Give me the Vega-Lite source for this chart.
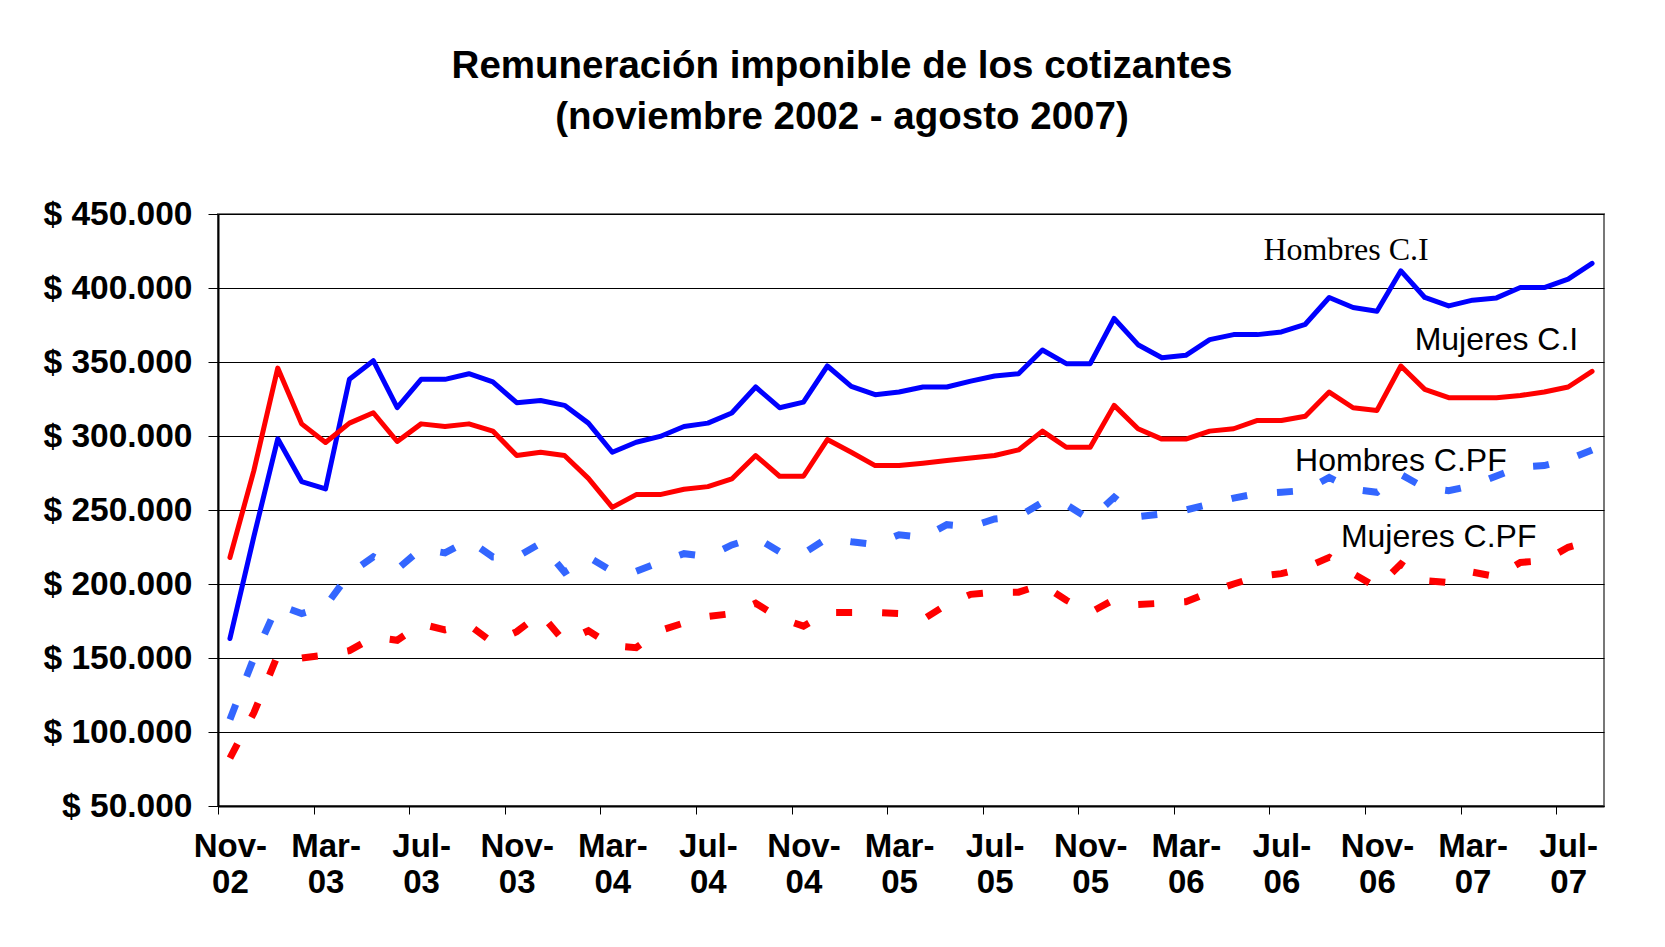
{
  "$schema": "https://vega.github.io/schema/vega-lite/v6.json",
  "autosize": "none",
  "padding": {"left": 218, "top": 214, "right": 61, "bottom": 141},
  "width": 1386,
  "height": 592,
  "background": "#ffffff",
  "config": {"view": {"stroke": "#777777", "strokeWidth": 2}, "font": "Liberation Sans"},
  "title": {
    "text": ["Remuneración imponible de los cotizantes", "(noviembre 2002 - agosto 2007)"],
    "font": "Liberation Sans",
    "fontSize": 38.5,
    "fontWeight": "bold",
    "color": "#000000",
    "lineHeight": 51,
    "anchor": "middle",
    "dx": -69,
    "offset": 60
  },
  "datasets": {
    "series": [
      {"mes": "Nov-02", "hci": 163200, "mci": 217900, "hpf": 108500, "mpf": 82400},
      {"mes": "Dic-02", "hci": 232000, "mci": 276600, "hpf": 150000, "mpf": 113000},
      {"mes": "Ene-03", "hci": 298100, "mci": 345900, "hpf": 186000, "mpf": 152000},
      {"mes": "Feb-03", "hci": 269200, "mci": 308200, "hpf": 180000, "mpf": 150000},
      {"mes": "Mar-03", "hci": 264200, "mci": 295600, "hpf": 185000, "mpf": 152000},
      {"mes": "Abr-03", "hci": 338300, "mci": 308700, "hpf": 207000, "mpf": 155000},
      {"mes": "May-03", "hci": 350900, "mci": 315700, "hpf": 218300, "mpf": 164000},
      {"mes": "Jun-03", "hci": 319100, "mci": 296300, "hpf": 210000, "mpf": 162000},
      {"mes": "Jul-03", "hci": 338300, "mci": 308200, "hpf": 223700, "mpf": 173000},
      {"mes": "Ago-03", "hci": 338300, "mci": 306400, "hpf": 221000, "mpf": 169000},
      {"mes": "Sep-03", "hci": 342100, "mci": 308200, "hpf": 229600, "mpf": 172400},
      {"mes": "Oct-03", "hci": 336500, "mci": 303300, "hpf": 218300, "mpf": 160300},
      {"mes": "Nov-03", "hci": 322500, "mci": 286800, "hpf": 218300, "mpf": 167800},
      {"mes": "Dic-03", "hci": 324000, "mci": 289000, "hpf": 227500, "mpf": 180000},
      {"mes": "Ene-04", "hci": 320700, "mci": 286800, "hpf": 208000, "mpf": 161000},
      {"mes": "Feb-04", "hci": 308700, "mci": 271400, "hpf": 218200, "mpf": 168400},
      {"mes": "Mar-04", "hci": 289000, "mci": 251800, "hpf": 208600, "mpf": 158300},
      {"mes": "Abr-04", "hci": 295800, "mci": 260400, "hpf": 208600, "mpf": 157000},
      {"mes": "May-04", "hci": 299700, "mci": 260400, "hpf": 214900, "mpf": 168600},
      {"mes": "Jun-04", "hci": 306400, "mci": 264000, "hpf": 220500, "mpf": 173700},
      {"mes": "Jul-04", "hci": 308700, "mci": 265800, "hpf": 218500, "mpf": 178000},
      {"mes": "Ago-04", "hci": 315500, "mci": 271000, "hpf": 226400, "mpf": 180000},
      {"mes": "Sep-04", "hci": 333100, "mci": 286800, "hpf": 231500, "mpf": 187000},
      {"mes": "Oct-04", "hci": 319100, "mci": 272800, "hpf": 221800, "mpf": 177000},
      {"mes": "Nov-04", "hci": 322900, "mci": 272800, "hpf": 220700, "mpf": 171500},
      {"mes": "Dic-04", "hci": 347300, "mci": 297600, "hpf": 231000, "mpf": 180700},
      {"mes": "Ene-05", "hci": 333500, "mci": 289000, "hpf": 228600, "mpf": 180700},
      {"mes": "Feb-05", "hci": 327900, "mci": 280000, "hpf": 226600, "mpf": 180700},
      {"mes": "Mar-05", "hci": 329700, "mci": 280000, "hpf": 233300, "mpf": 180000},
      {"mes": "Abr-05", "hci": 333100, "mci": 281600, "hpf": 231500, "mpf": 176000},
      {"mes": "May-05", "hci": 333100, "mci": 283400, "hpf": 240100, "mpf": 186200},
      {"mes": "Jun-05", "hci": 337100, "mci": 285200, "hpf": 238700, "mpf": 193000},
      {"mes": "Jul-05", "hci": 340500, "mci": 286800, "hpf": 243900, "mpf": 194500},
      {"mes": "Ago-05", "hci": 342100, "mci": 290600, "hpf": 245500, "mpf": 194500},
      {"mes": "Sep-05", "hci": 358100, "mci": 303300, "hpf": 255200, "mpf": 199600},
      {"mes": "Oct-05", "hci": 348900, "mci": 292400, "hpf": 253600, "mpf": 189000},
      {"mes": "Nov-05", "hci": 348900, "mci": 292400, "hpf": 243500, "mpf": 180700},
      {"mes": "Dic-05", "hci": 379400, "mci": 320700, "hpf": 258600, "mpf": 189500},
      {"mes": "Ene-06", "hci": 361700, "mci": 304900, "hpf": 245500, "mpf": 186200},
      {"mes": "Feb-06", "hci": 352900, "mci": 297900, "hpf": 247300, "mpf": 187000},
      {"mes": "Mar-06", "hci": 354500, "mci": 297900, "hpf": 250000, "mpf": 188000},
      {"mes": "Abr-06", "hci": 365100, "mci": 303300, "hpf": 254000, "mpf": 194500},
      {"mes": "May-06", "hci": 368500, "mci": 304900, "hpf": 258000, "mpf": 200000},
      {"mes": "Jun-06", "hci": 368500, "mci": 310500, "hpf": 261100, "mpf": 205000},
      {"mes": "Jul-06", "hci": 370300, "mci": 310500, "hpf": 262000, "mpf": 207000},
      {"mes": "Ago-06", "hci": 375500, "mci": 313400, "hpf": 263200, "mpf": 211000},
      {"mes": "Sep-06", "hci": 393600, "mci": 329700, "hpf": 272000, "mpf": 218000},
      {"mes": "Oct-06", "hci": 386800, "mci": 319100, "hpf": 264000, "mpf": 207000},
      {"mes": "Nov-06", "hci": 384300, "mci": 317300, "hpf": 262000, "mpf": 197700},
      {"mes": "Dic-06", "hci": 411600, "mci": 347300, "hpf": 274000, "mpf": 213500},
      {"mes": "Ene-07", "hci": 393600, "mci": 331500, "hpf": 265000, "mpf": 202300},
      {"mes": "Feb-07", "hci": 387900, "mci": 325900, "hpf": 263000, "mpf": 201000},
      {"mes": "Mar-07", "hci": 391800, "mci": 325900, "hpf": 266600, "mpf": 208000},
      {"mes": "Abr-07", "hci": 393300, "mci": 325900, "hpf": 273000, "mpf": 205000},
      {"mes": "May-07", "hci": 400300, "mci": 327400, "hpf": 279000, "mpf": 214600},
      {"mes": "Jun-07", "hci": 400300, "mci": 329700, "hpf": 280000, "mpf": 215800},
      {"mes": "Jul-07", "hci": 406000, "mci": 333100, "hpf": 284000, "mpf": 224800},
      {"mes": "Ago-07", "hci": 416600, "mci": 343700, "hpf": 290500, "mpf": 229300}
    ],
    "etiquetas": [
      {"mes": "Oct-06", "valor": 419250, "texto": "Hombres C.I"},
      {"mes": "Abr-07", "valor": 358070, "texto": "Mujeres C.I"},
      {"mes": "Dic-06", "valor": 276270, "texto": "Hombres C.PF"},
      {"mes": "Feb-07", "valor": 224690, "texto": "Mujeres C.PF"}
    ]
  },
  "encoding": {
    "x": {
      "field": "mes",
      "type": "ordinal",
      "scale": {
        "type": "point",
        "padding": 0.5,
        "domain": ["Nov-02","Dic-02","Ene-03","Feb-03","Mar-03","Abr-03","May-03","Jun-03","Jul-03","Ago-03","Sep-03","Oct-03","Nov-03","Dic-03","Ene-04","Feb-04","Mar-04","Abr-04","May-04","Jun-04","Jul-04","Ago-04","Sep-04","Oct-04","Nov-04","Dic-04","Ene-05","Feb-05","Mar-05","Abr-05","May-05","Jun-05","Jul-05","Ago-05","Sep-05","Oct-05","Nov-05","Dic-05","Ene-06","Feb-06","Mar-06","Abr-06","May-06","Jun-06","Jul-06","Ago-06","Sep-06","Oct-06","Nov-06","Dic-06","Ene-07","Feb-07","Mar-07","Abr-07","May-07","Jun-07","Jul-07","Ago-07"]
      },
      "axis": {
        "values": ["Nov-02","Mar-03","Jul-03","Nov-03","Mar-04","Jul-04","Nov-04","Mar-05","Jul-05","Nov-05","Mar-06","Jul-06","Nov-06","Mar-07","Jul-07"],
        "labelExpr": "[split(datum.label, '-')[0] + '-', split(datum.label, '-')[1]]",
        "title": null,
        "grid": false,
        "labelAngle": 0,
        "tickOffset": -11.95,
        "labelOffset": 11.95,
        "tickSize": 8,
        "tickColor": "#000000",
        "tickWidth": 1,
        "domainColor": "#000000",
        "domainWidth": 2,
        "labelFont": "Liberation Sans",
        "labelFontSize": 33,
        "labelFontWeight": "bold",
        "labelColor": "#000000",
        "labelLineHeight": 36,
        "labelPadding": 16,
        "labelOverlap": false,
        "labelBound": false,
        "labelFlush": false
      }
    },
    "y": {
      "field": "valor",
      "type": "quantitative",
      "scale": {"domain": [50000, 450000], "nice": false, "zero": false},
      "axis": {
        "values": [50000, 100000, 150000, 200000, 250000, 300000, 350000, 400000, 450000],
        "labelExpr": "'$ ' + replace(format(datum.value, ',.0f'), ',', '.')",
        "title": null,
        "grid": true,
        "gridColor": "#000000",
        "gridWidth": 1,
        "domainColor": "#000000",
        "domainWidth": 2,
        "tickColor": "#000000",
        "tickSize": 10,
        "tickWidth": 1,
        "labelPadding": 16,
        "labelFont": "Liberation Sans",
        "labelFontSize": 33.5,
        "labelFontWeight": "bold",
        "labelColor": "#000000",
        "labelOverlap": false,
        "labelBound": false
      }
    }
  },
  "layer": [
    {
      "data": {"name": "series"},
      "transform": [{"fold": ["hci", "mci"], "as": ["serie", "valor"]}],
      "mark": {"type": "line", "strokeWidth": 5, "strokeCap": "round", "strokeJoin": "round"},
      "encoding": {
        "color": {
          "field": "serie",
          "type": "nominal",
          "scale": {"domain": ["hci", "mci", "hpf", "mpf"], "range": ["#0000FF", "#FF0000", "#3366FF", "#FF0000"]},
          "legend": null
        }
      }
    },
    {
      "data": {"name": "series"},
      "transform": [{"fold": ["hpf", "mpf"], "as": ["serie", "valor"]}],
      "mark": {"type": "line", "strokeWidth": 7, "strokeDash": [16, 30], "strokeCap": "butt", "strokeJoin": "miter"},
      "encoding": {
        "color": {
          "field": "serie",
          "type": "nominal",
          "scale": {"domain": ["hci", "mci", "hpf", "mpf"], "range": ["#0000FF", "#FF0000", "#3366FF", "#FF0000"]},
          "legend": null
        }
      }
    },
    {
      "data": {"name": "etiquetas"},
      "transform": [{"filter": "datum.texto === 'Hombres C.I'"}],
      "mark": {"type": "text", "font": "Liberation Serif", "fontSize": 32, "align": "center", "baseline": "alphabetic", "dx": -7, "color": "#000000"},
      "encoding": {"text": {"field": "texto"}}
    },
    {
      "data": {"name": "etiquetas"},
      "transform": [{"filter": "datum.texto === 'Mujeres C.I' || datum.texto === 'Hombres C.PF'"}],
      "mark": {"type": "text", "font": "Liberation Sans", "fontSize": 32, "align": "center", "baseline": "alphabetic", "color": "#000000"},
      "encoding": {"text": {"field": "texto"}}
    },
    {
      "data": {"name": "etiquetas"},
      "transform": [{"filter": "datum.texto === 'Mujeres C.PF'"}],
      "mark": {"type": "text", "font": "Liberation Sans", "fontSize": 32, "align": "center", "baseline": "alphabetic", "dx": -10, "color": "#000000"},
      "encoding": {"text": {"field": "texto"}}
    }
  ]
}
